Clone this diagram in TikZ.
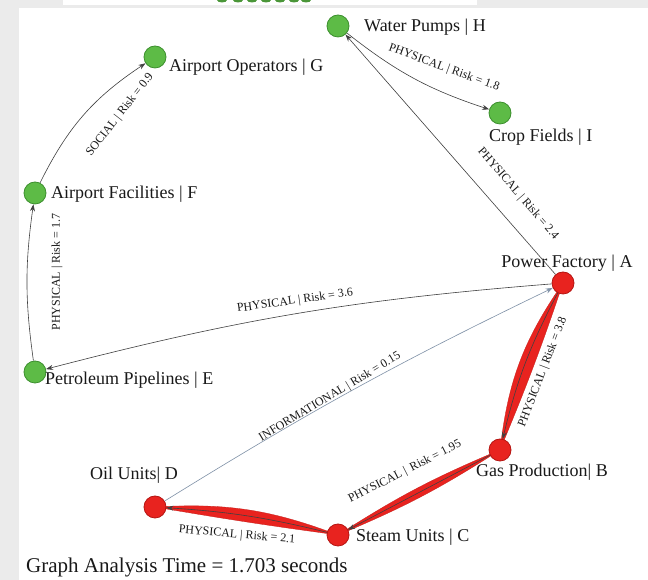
\documentclass[tikz,border=0pt]{standalone}
\usepackage{fontspec}
\setmainfont{Liberation Serif}
\usetikzlibrary{arrows.meta}
\definecolor{bggray}{HTML}{EBEBEB}
\definecolor{ngreen}{HTML}{5DBB46}
\definecolor{ngreenD}{HTML}{3C8F2E}
\definecolor{nred}{HTML}{E8231F}
\definecolor{nredD}{HTML}{B51512}
\definecolor{infoblue}{HTML}{7E90A6}
\begin{document}
\begin{tikzpicture}[x=1pt,y=1pt,
  gnode/.style={circle, fill=ngreen, draw=ngreenD, line width=0.8pt, minimum size=22pt, inner sep=0pt},
  rnode/.style={circle, fill=nred, draw=nredD, line width=0.8pt, minimum size=22pt, inner sep=0pt},
  nlabel/.style={font=\fontsize{18}{21}\selectfont, inner sep=0pt, text=black!90},
  elabel/.style={font=\fontsize{12}{14}\selectfont, inner sep=0pt, text=black!90},
  footer/.style={font=\fontsize{21}{25}\selectfont, inner sep=0pt, text=black!90},
  link/.style={draw=black!75, line width=0.6pt, -{Stealth[length=7pt,width=5pt]}},
  infolink/.style={draw=infoblue, line width=0.6pt, -{Stealth[length=7pt,width=5pt]}},
  redband/.style={fill=nred, draw=nred!85!black, line width=0.3pt},
]
% background
\useasboundingbox (0,0) rectangle (648,580);
\fill[bggray] (0,0) rectangle (648,580);
\fill[white] (19,0) rectangle (648,572);
\fill[white] (63,575) rectangle (477,580);
\begin{scope}
  \clip (63,575) rectangle (477,580);
  \foreach \gx in {222,238,252,266,280,294,306} {
    \fill[ngreen!80!black] (\gx,580) ellipse (5 and 2.5);
  }
\end{scope}

% node centres
\coordinate (h) at (338,554);
\coordinate (i) at (500,467);
\coordinate (g) at (155,523);
\coordinate (f) at (35,387);
\coordinate (e) at (35,208);
\coordinate (a) at (563,297);
\coordinate (b) at (500,130);
\coordinate (c) at (338,45);
\coordinate (d) at (155,73);

% red bands
\fill[redband] (a) to[bend right=14] (b) to[bend right=2] (a);
\fill[redband] (b) to[bend left=5] (c) to[bend left=5] (b);
\fill[redband] (c) to[bend right=12] (d) to[bend right=1] (c);

% nodes
\node[gnode] (H) at (h) {};
\node[gnode] (I) at (i) {};
\node[gnode] (G) at (g) {};
\node[gnode] (F) at (f) {};
\node[gnode] (E) at (e) {};
\node[rnode] (A) at (a) {};
\node[rnode] (B) at (b) {};
\node[rnode] (C) at (c) {};
\node[rnode] (D) at (d) {};

% node labels
\node[nlabel, anchor=west] (tH) at (364,553) {Water Pumps | H};
\node[nlabel, anchor=west] (tI) at (489,443) {Crop Fields | I};
\node[nlabel, anchor=west] (tG) at (169,513) {Airport Operators | G};
\node[nlabel, anchor=west] (tF) at (51,386) {Airport Facilities | F};
\node[nlabel, anchor=west] (tE) at (45,200) {Petroleum Pipelines | E};
\node[nlabel] (tA) at (567,317) {Power Factory | A};
\node[nlabel] (tB) at (542,108) {Gas Production| B};
\node[nlabel, anchor=west] (tC) at (356,43) {Steam Units | C};
\node[nlabel] (tD) at (134,105) {Oil Units| D};

% connectors
\draw[link] (H) to[bend right=10] (I);
\draw[link] (A) -- (H);
\draw[link] (F) to[bend left=15] (G);
\draw[link] (E) to[bend left=8] (F);
\draw[link] (A) to[bend right=5] (E);
\draw[infolink] (D) to[bend left=3] (A);
\draw[link] (A) to[bend right=7] (B);
\draw[link] (B) -- (C);
\draw[link] (C) to[bend right=5] (D);

% edge labels
\node[elabel, rotate=-20] (lHI) at (444,512) {PHYSICAL | Risk = 1.8};
\node[elabel, rotate=-49] (lAH) at (518,386) {PHYSICAL | Risk = 2.4};
\node[elabel, rotate=52] (lFG) at (120,465) {SOCIAL | Risk = 0.9};
\node[elabel, rotate=90] (lEF) at (57,308) {PHYSICAL | Risk = 1.7};
\node[elabel, rotate=8] (lAE) at (295,279) {PHYSICAL | Risk = 3.6};
\node[elabel, rotate=31] (lDA) at (330,183) {INFORMATIONAL | Risk = 0.15};
\node[elabel, rotate=69] (lAB) at (543,208) {PHYSICAL | Risk = 3.8};
\node[elabel, rotate=27] (lBC) at (405,108) {PHYSICAL |\, Risk = 1.95};
\node[elabel, rotate=-5] (lCD) at (237,45) {PHYSICAL | Risk = 2.1};

% footer
\node[footer, anchor=west] (time) at (26,13) {Graph Analysis Time = 1.703 seconds};
\end{tikzpicture}
\end{document}
